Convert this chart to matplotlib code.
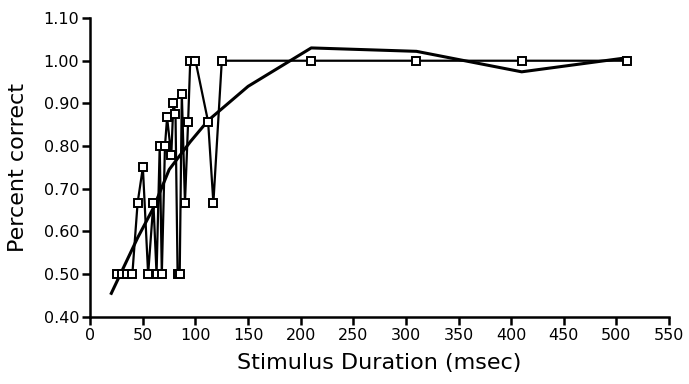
import matplotlib
matplotlib.use('Agg')
import matplotlib.pyplot as plt

# observed proportion correct per stimulus duration
duration = [25, 30, 35, 40, 45, 50, 55, 60, 63, 66, 68, 71, 73, 77, 79, 81, 83, 85,
            87, 90, 93, 95, 100, 112, 117, 125, 210, 310, 410, 510]
correct = [0.50, 0.50, 0.50, 0.50, 0.667, 0.75, 0.50, 0.667, 0.50, 0.80, 0.50, 0.80,
           0.867, 0.778, 0.90, 0.875, 0.50, 0.50, 0.923, 0.667, 0.857, 1.00, 1.00,
           0.857, 0.667, 1.00, 1.00, 1.00, 1.00, 1.00]

# smoothed fit
fit_x = [20, 45, 60, 75, 95, 112, 150, 210, 310, 410, 510]
fit_y = [0.455, 0.585, 0.655, 0.745, 0.81, 0.86, 0.94, 1.03, 1.022, 0.974, 1.007]

xticks = list(range(0, 551, 50))
yticks = [0.40, 0.50, 0.60, 0.70, 0.80, 0.90, 1.00, 1.10]

plt.rcParams['font.family'] = ['DejaVu Sans']

fig = plt.figure(figsize=(6.89, 3.84), dpi=100)
ax = fig.add_axes([0.131, 0.175, 0.84, 0.778])

ax.plot(duration, correct, color='black', linewidth=1.6, marker='s', markersize=5.8,
        markerfacecolor='white', markeredgecolor='black', markeredgewidth=1.4, zorder=3)
ax.plot(fit_x, fit_y, color='black', linewidth=2.2, zorder=2)

ax.set_xlim(0, 550)
ax.set_ylim(0.40, 1.10)
ax.set_xticks(xticks)
ax.set_xticklabels([str(t) for t in xticks])
ax.set_yticks(yticks)
ax.set_yticklabels(['%.2f' % t for t in yticks])

for s in ['top', 'right']:
    ax.spines[s].set_visible(False)
for s in ['left', 'bottom']:
    ax.spines[s].set_linewidth(1.8)
ax.tick_params(direction='out', length=6, width=1.8, labelsize=11.5, pad=2)

ax.set_xlabel('Stimulus Duration (msec)', fontsize=16, labelpad=7)
ax.set_ylabel('Percent correct', fontsize=16, labelpad=11)

fig.savefig('out.png', dpi=100)
